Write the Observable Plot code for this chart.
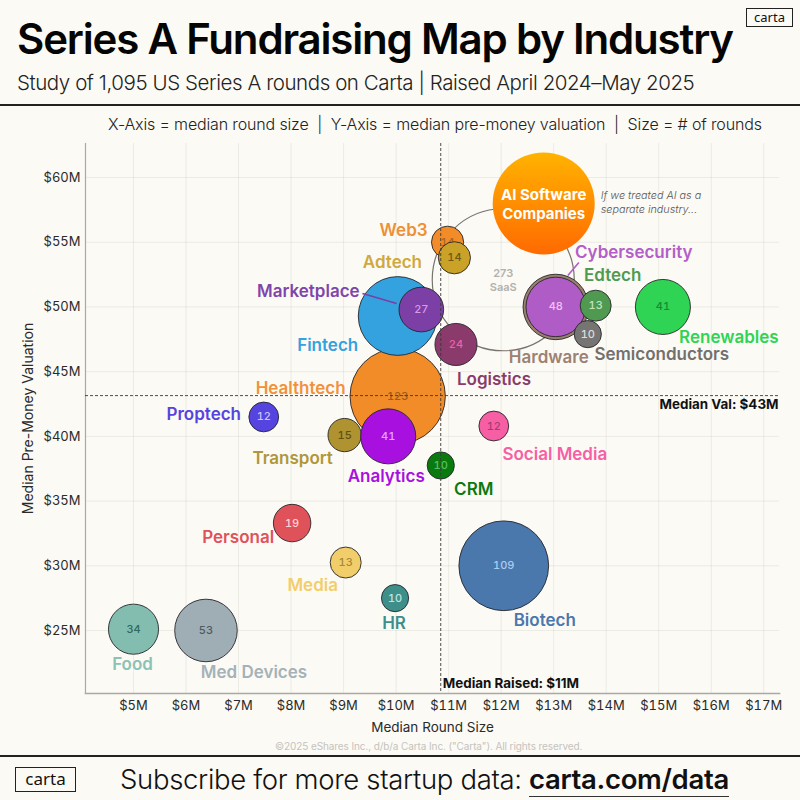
<!DOCTYPE html>
<html>
<head>
<meta charset="utf-8">
<script src="https://cdn.jsdelivr.net/npm/d3@7"></script>
<script src="https://cdn.jsdelivr.net/npm/@observablehq/plot@0.6"></script>
<style>
  html, body { margin: 0; padding: 0; background: #fcfaf5; }
  body { width: 800px; height: 800px; overflow: hidden; font-family: Inter, sans-serif; color: #111; }
  #head { position: relative; height: 133px; }
  #foot { position: relative; height: 45px; border-top: 2px solid #222; box-sizing: border-box; }
  #head div, #foot div { position: absolute; white-space: nowrap; }
  #chart svg { display: block; }
  .logo { border: 1.2px solid #222; text-align: center; font-family: "Noto Sans", sans-serif; box-sizing: border-box; }
  #title { left: 17px; top: 12px; font-size: 42px; line-height: 54px; font-weight: 600; letter-spacing: -1.18px; color: #050505; }
  #sub { left: 17px; top: 70px; font-size: 20.5px; line-height: 26px; font-weight: 300; letter-spacing: -.43px; color: #222; }
  #rule { left: 0; top: 104px; width: 800px; height: 2px; background: #222; }
  #axes { left: 108px; top: 114px; font-size: 16px; line-height: 20px; font-weight: 300; letter-spacing: -.15px; color: #222; }
  #copy { left: 275px; top: -17px; font-size: 10px; color: #c4c3bd; line-height: 13px; letter-spacing:-.1px; }
  #sub2 { left: 120px; top: 4px; font-size: 27.5px; line-height: 36px; font-weight: 300; letter-spacing: -.33px; color: #111; }
  #sub2 b { font-weight: 600; border-bottom: 1.5px solid #333; }
</style>
</head>
<body>
<div id="head">
  <div id="title">Series A Fundraising Map by Industry</div>
  <div id="sub">Study of 1,095 US Series A rounds on Carta | Raised April 2024–May 2025</div>
  <div id="rule"></div>
  <div id="axes">X-Axis = median round size &nbsp;|&nbsp; Y-Axis = median pre-money valuation &nbsp;|&nbsp; Size = # of rounds</div>
  <div class="logo" style="left:746px;top:8px;width:47px;height:19px;font-size:13px;line-height:16px;">carta</div>
</div>
<div id="chart"></div>
<div id="foot">
  <div id="copy">©2025 eShares Inc., d/b/a Carta Inc. ("Carta"). All rights reserved.</div>
  <div class="logo" style="left:15px;top:10px;width:61px;height:25px;font-size:17px;line-height:21px;">carta</div>
  <div id="sub2">Subscribe for more startup data: <b>carta.com/data</b></div>
</div>
<script>
// ---- data ----
const industries = ["SaaS","AI Software\nCompanies","Web3","Adtech","Healthtech","Fintech","Marketplace","Logistics","Hardware","Cybersecurity","Edtech","Semiconductors","Renewables","Transport","Analytics","Proptech","Social Media","CRM","Personal","Media","HR","Biotech","Food","Med Devices"];
const roundSize  = [12.04,12.81,10.98,11.11,10.03,10.03,10.48,11.14,13.04,13.04,13.8,13.65,15.08,9.02,9.85,7.48,11.86,10.85,8.02,9.04,9.98,12.05,5.0,6.38];
const valuation  = [52.1,58.0,55.0,53.8,43.1,49.3,49.8,47.1,50.0,50.0,50.1,47.9,50.0,40.1,40.0,41.5,40.8,37.75,33.3,30.25,27.5,30.0,25.1,25.0];
const rounds     = [273,141,14,14,123,84,27,24,58,48,13,10,41,15,41,12,12,10,19,13,10,109,34,53];
const shownCount = [null,null,14,14,123,null,27,24,null,48,13,10,41,15,41,12,12,10,19,13,10,109,34,53];
const xTicks = [5,6,7,8,9,10,11,12,13,14,15,16,17];
const yTicks = [25,30,35,40,45,50,55,60];
const medianRaised = 10.85;
const medianVal = 43.15;
const leaders = [
  {name:"Marketplace", x1:9.36, y1:51.04, x2:10.01, y2:50.26},
  {name:"Cybersecurity", x1:13.48, y1:53.43, x2:13.27, y2:52.43}
];

// ---- styles ----
const bubbleFill = {"SaaS":"none","AI Software\nCompanies":"url(#aiGrad)","Web3":"#f28c28","Adtech":"#c9a227","Healthtech":"#f28c28","Fintech":"#35a2e0","Marketplace":"#7b3fa5","Logistics":"#8a3a6b","Hardware":"#9a7f6e","Cybersecurity":"#b05cc6","Edtech":"#4f9a50","Semiconductors":"#777573","Renewables":"#2fd454","Transport":"#ae9330","Analytics":"#a810e0","Proptech":"#5544e0","Social Media":"#f75fa5","CRM":"#0a7a0f","Personal":"#e0525a","Media":"#f2ce6b","HR":"#3e8f8a","Biotech":"#4a78ad","Food":"#83bdb0","Med Devices":"#9faeb5"};
const labelFill = {"Web3":"#ee9035","Adtech":"#cfa93e","Healthtech":"#f0923a","Fintech":"#35a2e0","Marketplace":"#7f46aa","Logistics":"#8a3a6b","Hardware":"#9c8272","Cybersecurity":"#b25fc9","Edtech":"#4f9a50","Semiconductors":"#72706e","Renewables":"#2fd454","Transport":"#b0973a","Analytics":"#a810e0","Proptech":"#5544e0","Social Media":"#f75fa5","CRM":"#0a7a0f","Personal":"#e0525a","Media":"#f2ce6b","HR":"#3e8f8a","Biotech":"#4a78ad","Food":"#8cc2b6","Med Devices":"#a5b2b8"};
const countFill = {"Web3":"#a8651f","Adtech":"#6e5a12","Healthtech":"#9a5c18","Marketplace":"#d79be8","Logistics":"#f060a8","Cybersecurity":"#ecc4f5","Edtech":"#bfe5bf","Semiconductors":"#dedede","Renewables":"#168a35","Transport":"#5f5018","Analytics":"#e6a5fa","Proptech":"#c8c4fa","Social Media":"#a83b6f","CRM":"#57c060","Personal":"#fbd2d4","Media":"#a58a3a","HR":"#bfe6e3","Biotech":"#a9cdf0","Food":"#2f6a60","Med Devices":"#4d5a60"};
// pixel offset of each name from its bubble centre
const labelOffset = {"Web3":[-44,-12],"Adtech":[-62,5],"Healthtech":[-97,-8],"Fintech":[-70,30],"Marketplace":[-113,-18],"Logistics":[38,35],"Hardware":[-7,51],"Cybersecurity":[78,-54],"Edtech":[17,-30],"Semiconductors":[74,20],"Renewables":[66,31],"Transport":[-52,23],"Analytics":[-2,40],"Proptech":[-60,-2],"Social Media":[61,29],"CRM":[33,24],"Personal":[-54,14],"Media":[-33,23],"HR":[-1,25],"Biotech":[41,55],"Food":[-1,35],"Med Devices":[48,42]};

const rows = industries.map((name,i)=>({name, x:roundSize[i], y:valuation[i], n:rounds[i], shown:shownCount[i]}));
const fonts = "Inter, sans-serif";
const money = d => `$${d}M`;

const defsMark = () => {
  const defs = d3.create("svg:defs");
  const g = defs.append("linearGradient").attr("id","aiGrad").attr("x1",0).attr("x2",0).attr("y1",0).attr("y2",1);
  g.append("stop").attr("offset","0%").attr("stop-color","#ffb300");
  g.append("stop").attr("offset","100%").attr("stop-color","#ff6a00");
  return defs.node();
};

const marks = [
  defsMark,
  Plot.gridX(xTicks,{stroke:"#b8b4a8",strokeOpacity:.22,strokeWidth:1}),
  Plot.gridY(yTicks,{stroke:"#b8b4a8",strokeOpacity:.22,strokeWidth:1}),
  Plot.frame({anchor:"left",stroke:"#a9a9a5",strokeWidth:1.2}),
  Plot.frame({anchor:"bottom",stroke:"#a9a9a5",strokeWidth:1.6}),
  Plot.axisX(xTicks,{anchor:"bottom",tickSize:0,tickPadding:7,tickFormat:money,label:null,fontSize:13,fill:"#2a2a2a"}),
  Plot.axisX([],{anchor:"bottom",tickSize:0,label:"Median Round Size",labelAnchor:"center",labelArrow:"none",labelOffset:38,fontSize:13.5,fill:"#2a2a2a"}),
  Plot.axisY(yTicks,{anchor:"left",tickSize:0,tickPadding:5,tickFormat:money,label:null,fontSize:13,fill:"#2a2a2a"}),
  Plot.axisY([],{anchor:"left",tickSize:0,label:"Median Pre-Money Valuation",labelAnchor:"center",labelArrow:"none",labelOffset:62,fontSize:14,fill:"#2a2a2a"})
];
for (const r of rows) {
  const isSaas = r.name === "SaaS", isAi = r.name.startsWith("AI");
  marks.push(Plot.dot([r],{x:"x",y:"y",r:"n",fill:bubbleFill[r.name],
    stroke: isSaas ? "#77746e" : isAi ? "none" : "#26262a", strokeWidth: isSaas ? 1.2 : .9}));
  if (r.shown != null)
    marks.push(Plot.text([r],{x:"x",y:"y",text:"shown",fill:countFill[r.name]||"#444",fontSize:11,fontWeight:500}));
  if (isSaas)
    marks.push(Plot.text([r],{x:"x",y:"y",text:()=>"273\nSaaS",fill:"#b3b1ab",fontSize:11,fontWeight:600,lineHeight:1.2}));
  if (isAi)
    marks.push(Plot.text([r],{x:"x",y:"y",text:"name",fill:"#fff",fontSize:15,fontWeight:700,lineHeight:1.25}));
  if (labelOffset[r.name])
    marks.push(Plot.text([r],{x:"x",y:"y",text:"name",dx:labelOffset[r.name][0],dy:labelOffset[r.name][1],fill:labelFill[r.name],fontSize:17,fontWeight:600,letterSpacing:-.1}));
}
marks.push(
  Plot.link(leaders,{x1:"x1",y1:"y1",x2:"x2",y2:"y2",stroke:d=>bubbleFill[d.name],strokeWidth:1.6}),
  Plot.text(rows.filter(r=>r.name.startsWith("AI")),{x:"x",y:"y",text:()=>"If we treated AI as a\nseparate industry...",dx:57,dy:-2,textAnchor:"start",fill:"#555",fontSize:10.8,fontStyle:"italic",fontWeight:300,lineHeight:1.32}),
  Plot.ruleX([medianRaised],{stroke:"#3a3a3a",strokeWidth:.9,strokeDasharray:"3,2"}),
  Plot.ruleY([medianVal],{stroke:"#3a3a3a",strokeWidth:.9,strokeDasharray:"3,2"}),
  Plot.text([0],{frameAnchor:"bottom-left",x:()=>medianRaised,text:()=>`Median Raised: ${money(Math.round(medianRaised))}`,dx:2,dy:-6,textAnchor:"start",fontWeight:700,fontSize:13.4,letterSpacing:-.1,fill:"#111"}),
  Plot.text([0],{frameAnchor:"right",y:()=>medianVal,text:()=>`Median Val: ${money(Math.round(medianVal))}`,dx:-1,dy:9,textAnchor:"end",fontWeight:700,fontSize:13.4,letterSpacing:-.1,fill:"#111"})
);

const chart = Plot.plot({
  width:800, height:622,
  marginLeft:85, marginRight:21, marginTop:10, marginBottom:62,
  style:{background:"transparent",fontFamily:fonts,overflow:"visible"},
  x:{domain:[4.086,17.3]},
  y:{domain:[20.13,62.63]},
  r:{type:"sqrt",domain:[0,273],range:[0,71]},
  marks
});
document.getElementById("chart").append(chart);
</script>
</body>
</html>
